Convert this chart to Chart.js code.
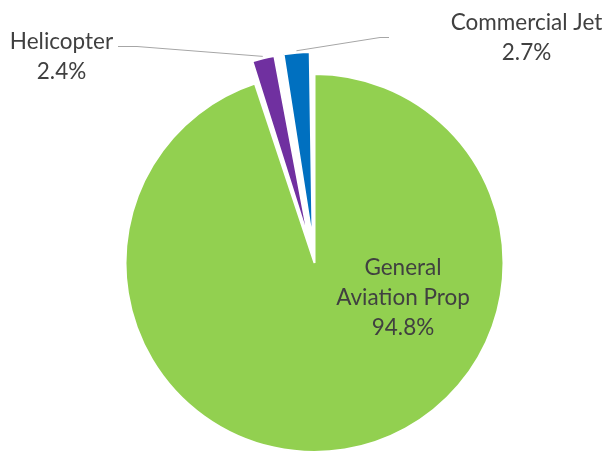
<!DOCTYPE html>
<html lang="en">

<head>
    <meta charset="UTF-8">
    <title>Aircraft type share - pie</title>
    <style>
        html, body { margin: 0; padding: 0; background: #fff; }
        #wrap { width: 606px; height: 455px; }
    </style>
</head>

<body>
    <div id="wrap">
        <canvas id="myChart" width="606" height="455"></canvas>
    </div>
    <script src="https://cdn.jsdelivr.net/npm/chart.js"></script>
    <script>
        // 資料
        const categories = ['General Aviation Prop', 'Helicopter', 'Commercial Jet'];
        const shares = [94.8, 2.4, 2.7];
        const sliceColors = ['#92D050', '#7030A0', '#0070C0'];
        const explode = [0, 88, 88];   // chart.js moves a slice by offset/4

        const PIE_RADIUS = 189;
        const TEXT_COLOR = '#404040';
        const LINE_COLOR = '#A6A6A6';
        const FONT = '22.5px Lato';

        // keep exploded slices at the same radius as the main one
        const keepRadius = {
            id: 'keepRadius',
            afterDatasetsUpdate(chart) {
                chart.getDatasetMeta(0).data.forEach(function (arc, i) {
                    const off = explode[i] / 4;
                    if (!off) return;
                    const fix = 1 - Math.sin(Math.min(Math.PI, arc.circumference));
                    arc.outerRadius = PIE_RADIUS - off * fix;
                });
            }
        };

        // 標籤 + 引線
        const sliceLabels = {
            id: 'sliceLabels',
            afterDatasetsDraw(chart) {
                const ctx = chart.ctx;
                const arcs = chart.getDatasetMeta(0).data;

                function edgePoint(i) {
                    const a = arcs[i];
                    const mid = (a.startAngle + a.endAngle) / 2;
                    const d = PIE_RADIUS + explode[i] / 4 + 2;
                    return [a.x + Math.cos(mid) * d, a.y + Math.sin(mid) * d];
                }

                function pct(i) {
                    return shares[i].toFixed(1) + '%';
                }

                ctx.save();
                ctx.strokeStyle = LINE_COLOR;
                ctx.lineWidth = 1;

                // Helicopter
                let p = edgePoint(1);
                ctx.beginPath();
                ctx.moveTo(p[0], p[1]);
                ctx.lineTo(137, 46.5);
                ctx.lineTo(118, 46.5);
                ctx.stroke();

                // Commercial Jet
                p = edgePoint(2);
                ctx.beginPath();
                ctx.moveTo(p[0], p[1]);
                ctx.lineTo(380, 37.5);
                ctx.lineTo(389, 37.5);
                ctx.stroke();

                ctx.fillStyle = TEXT_COLOR;
                ctx.font = FONT;
                ctx.textAlign = 'center';
                ctx.textBaseline = 'alphabetic';

                ctx.fillText(categories[1], 61.5, 48.5);
                ctx.fillText(pct(1), 61.5, 79);

                ctx.fillText(categories[2], 526.5, 29.5);
                ctx.fillText(pct(2), 526.5, 60);

                ctx.fillText('General', 403, 275);
                ctx.fillText('Aviation Prop', 403, 305);
                ctx.fillText(pct(0), 403, 335);
                ctx.restore();
            }
        };

        const ctx = document.getElementById('myChart');
        const mychart = new Chart(ctx, {
            type: 'pie',
            data: {
                labels: categories,
                datasets: [{
                    data: shares,
                    backgroundColor: sliceColors,
                    borderColor: '#FFFFFF',
                    borderWidth: 2,
                    offset: explode,
                    radius: PIE_RADIUS,
                    clip: false
                }]
            },
            options: {
                responsive: false,
                animation: false,
                layout: {
                    padding: { left: 23, right: 0, top: 71, bottom: 0 }
                },
                plugins: {
                    legend: { display: false },
                    tooltip: { enabled: false }
                }
            },
            plugins: [keepRadius, sliceLabels]
        });
    </script>
</body>

</html>
